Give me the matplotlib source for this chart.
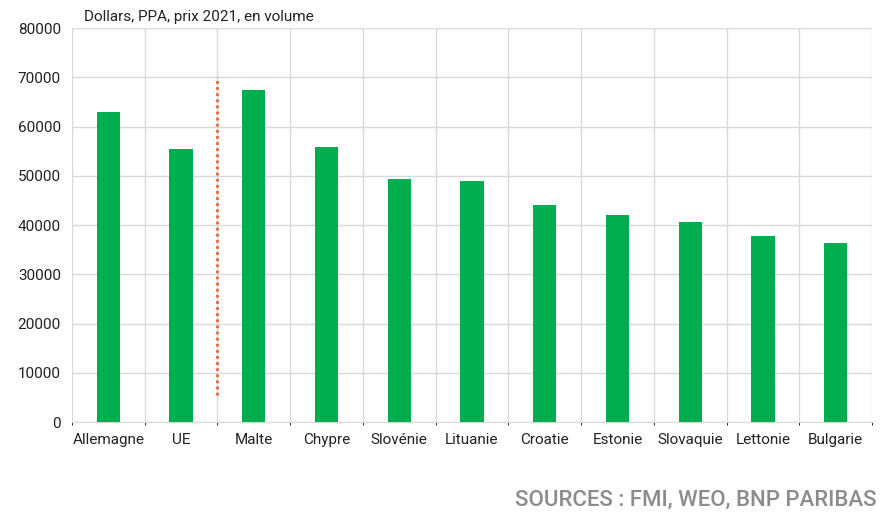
import matplotlib
matplotlib.use("Agg")
import matplotlib.pyplot as plt
import numpy as np

countries = ["Allemagne", "UE", "Malte", "Chypre", "Slovénie", "Lituanie",
             "Croatie", "Estonie", "Slovaquie", "Lettonie", "Bulgarie"]
gdp_pc = [63000, 55500, 67400, 55800, 49400, 49000, 44000, 42000, 40700, 37700, 36300]
separator = (1.5, 5500, 70000)

plt.rcParams["font.family"] = ["Roboto", "DejaVu Sans"]

fig = plt.figure(figsize=(8.83, 5.23), dpi=100)
ax = fig.add_axes([0.0815, 0.193, 0.906, 0.753])

x = np.arange(len(countries))
ax.bar(x, gdp_pc, width=0.32, color="#00AE50", zorder=3)
ax.vlines(separator[0], separator[1], separator[2], colors="#E8643A",
          linestyles=(0, (1, 1.2)), linewidth=2, zorder=4)

ax.set_xlim(-0.5, len(countries) - 0.5)
ax.set_ylim(0, 80000)
ax.set_yticks(np.arange(0, 80001, 10000))
ax.set_xticks(x)
ax.set_xticklabels(countries, fontsize=11, color="#222222")
ax.tick_params(axis="y", labelsize=11, labelcolor="#222222", length=0, pad=8)
ax.tick_params(axis="x", length=0, pad=8)

ax.set_xticks(np.arange(-0.5, len(countries), 1), minor=True)
ax.grid(True, axis="y", color="#D9D9D9", linewidth=1, zorder=0)
ax.grid(True, axis="x", which="minor", color="#D9D9D9", linewidth=1, zorder=0)
ax.grid(False, axis="x", which="major")

for s in ["top", "right", "left"]:
    ax.spines[s].set_visible(False)
ax.spines["bottom"].set_color("#D9D9D9")

fig.text(0.095, 0.955, "Dollars, PPA, prix 2021, en volume", fontsize=11,
         color="#222222", ha="left", va="bottom")
fig.text(0.993, 0.043, "SOURCES : FMI, WEO, BNP PARIBAS", fontsize=16,
         color="#8C8C8C", ha="right", va="center", fontweight="medium")

plt.savefig("out.png", dpi=100)
plt.close()
